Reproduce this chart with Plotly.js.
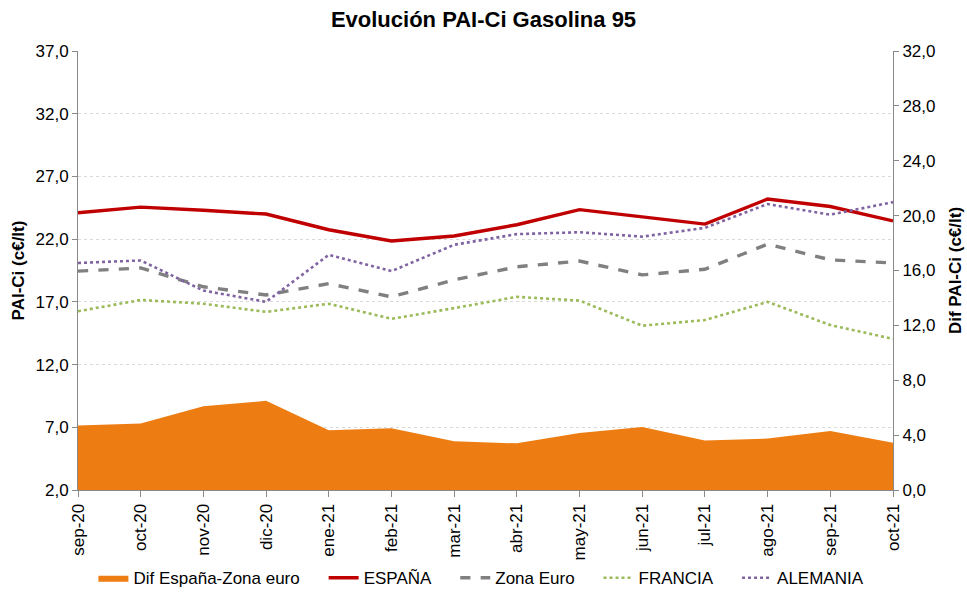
<!DOCTYPE html>
<html><head><meta charset="utf-8">
<script src="https://cdn.plot.ly/plotly-3.0.1.min.js"></script>
<style>html,body{margin:0;padding:0;background:#fff}#c{width:967px;height:593px}</style>
</head><body><div id="c"></div>
<script>
const months = ["sep-20","oct-20","nov-20","dic-20","ene-21","feb-21","mar-21","abr-21","may-21","jun-21","jul-21","ago-21","sep-21","oct-21"];
const espana   = [24.1,24.55,24.3,24.0,22.75,21.85,22.25,23.15,24.35,23.75,23.2,25.2,24.6,23.45];
const zonaEuro = [19.45,19.7,18.2,17.55,18.45,17.4,18.75,19.8,20.25,19.15,19.6,21.6,20.35,20.1];
const francia  = [16.25,17.15,16.85,16.2,16.85,15.65,16.5,17.4,17.1,15.1,15.55,17.0,15.15,14.05];
const alemania = [20.1,20.3,17.9,17.0,20.75,19.45,21.55,22.4,22.55,22.2,22.9,24.8,23.95,24.95];
const difEspZona = [4.7,4.85,6.1,6.5,4.35,4.5,3.55,3.4,4.15,4.6,3.6,3.75,4.3,3.45];
const seriesNames = ["Dif España-Zona euro","ESPAÑA","Zona Euro","FRANCIA","ALEMANIA"];

const font = "Liberation Sans, Arial, sans-serif";
const pad = "\u00a0\u00a0\u00a0\u00a0";
const traces = [
  {x: months, y: difEspZona, name: seriesNames[0] + pad, type: "scatter", mode: "lines",
   yaxis: "y2", fill: "tozeroy", fillcolor: "#ED7D12", line: {color: "#ED7D12", width: 0}},
  {x: months, y: espana, name: seriesNames[1] + pad, type: "scatter", mode: "lines",
   line: {color: "#C00000", width: 3.4}},
  {x: months, y: zonaEuro, name: seriesNames[2] + pad, type: "scatter", mode: "lines",
   line: {color: "#808080", width: 3.4, dash: "dash"}},
  {x: months, y: francia, name: seriesNames[3] + pad, type: "scatter", mode: "lines",
   line: {color: "#9BBB59", width: 2.6, dash: "dot"}},
  {x: months, y: alemania, name: seriesNames[4], type: "scatter", mode: "lines",
   line: {color: "#8064A2", width: 2.6, dash: "dot"}}
];
const layout = {
  width: 967, height: 593,
  margin: {l: 78, r: 74, t: 51, b: 103},
  paper_bgcolor: "#fff", plot_bgcolor: "#fff",
  separators: ",.",
  font: {family: font, size: 17, color: "#000"},
  title: {text: "<b>Evolución PAI-Ci Gasolina 95</b>", x: 0.5, xanchor: "center", y: 0.968, yanchor: "middle",
          font: {family: font, size: 22, color: "#000"}},
  showlegend: true,
  legend: {orientation: "h", x: 0.495, xanchor: "center", yref: "container", y: 0.025, yanchor: "middle",
           font: {family: font, size: 17, color: "#000"}, traceorder: "normal"},
  xaxis: {type: "category", range: [0, 13], tickangle: -90, showgrid: false,
          showline: true, linecolor: "#898989", linewidth: 1,
          ticks: "outside", ticklen: 6, tickcolor: "#898989",
          tickfont: {family: font, size: 17}, zeroline: false, automargin: false},
  yaxis: {range: [2, 37], dtick: 5, tick0: 2, tickformat: ".1f",
          showgrid: true, gridcolor: "#d9d9d9", griddash: "dot", gridwidth: 1,
          showline: true, linecolor: "#898989", linewidth: 1,
          ticks: "outside", ticklen: 5, tickcolor: "#898989", zeroline: false,
          tickfont: {family: font, size: 17},
          title: {text: "<b>PAI-Ci (c€/lt)</b>", font: {family: font, size: 17}, standoff: 6},
          automargin: false},
  yaxis2: {range: [0, 32], dtick: 4, tick0: 0, tickformat: ".1f", overlaying: "y", side: "right",
           showgrid: false, showline: true, linecolor: "#898989", linewidth: 1,
           ticks: "outside", ticklen: 5, tickcolor: "#898989", zeroline: false,
           tickfont: {family: font, size: 17},
           title: {text: "<b>Dif PAI-Ci (c€/lt)</b>", font: {family: font, size: 17}, standoff: 14},
           automargin: false}
};
Plotly.newPlot("c", traces, layout, {displayModeBar: false, staticPlot: true});
</script></body></html>
